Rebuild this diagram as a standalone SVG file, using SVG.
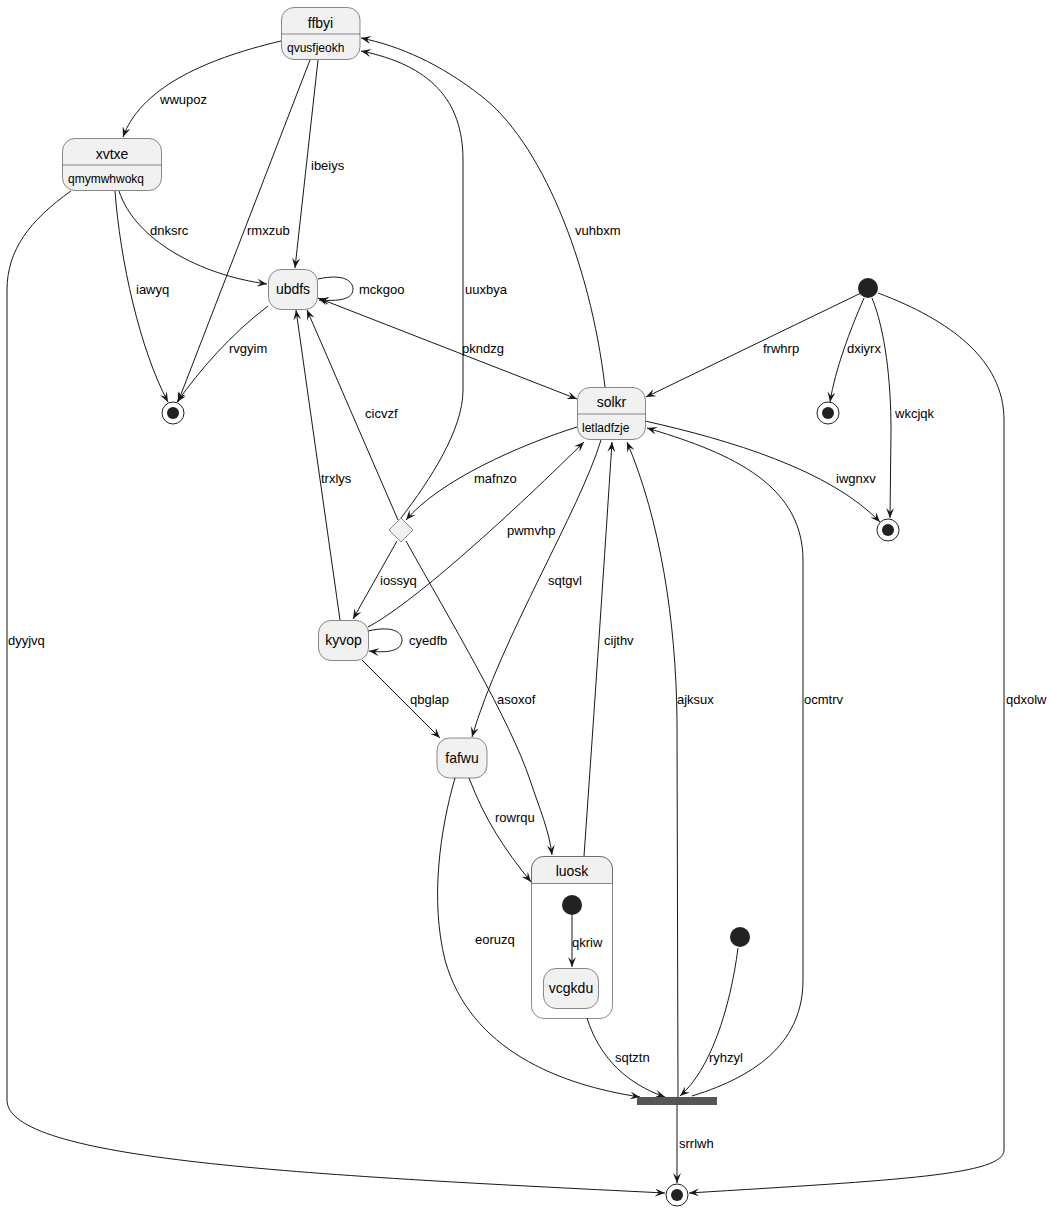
<svg xmlns="http://www.w3.org/2000/svg" width="1052" height="1210" viewBox="0 0 1052 1210">
  <style>
    .st { fill: #F1F1F1; stroke: #181818; stroke-width: 0.5; }
    .box { fill: none; stroke: #181818; stroke-width: 0.5; }
    .sep { stroke: #181818; stroke-width: 0.5; }
    .name { font-family: "Liberation Sans", Arial, sans-serif; font-size: 14px; fill: #000; text-anchor: middle; }
    .attr { font-family: "Liberation Sans", Arial, sans-serif; font-size: 12px; fill: #000; }
    .lbl { font-family: "Liberation Sans", Arial, sans-serif; font-size: 13px; fill: #000; }
    .edge { fill: none; stroke: #181818; stroke-width: 1; marker-end: url(#arrow); }
    .dot { fill: #222222; }
    .ring { fill: #FFFFFF; stroke: #222222; stroke-width: 1; }
  </style>
  <defs>
    <marker id="arrow" viewBox="0 0 10 8" refX="10" refY="4" markerWidth="10" markerHeight="8" markerUnits="userSpaceOnUse" orient="auto-start-reverse">
      <path d="M0,0 L10,4 L0,8 L4,4 Z" fill="#181818"/>
    </marker>
  </defs>
  <rect width="1052" height="1210" fill="#FFFFFF"/>

  <!-- transitions -->
  <g id="connectors">
    <path class="edge" d="M281,41 C200,60 140,90 123,137"/>
    <text class="lbl" x="160" y="104">wwupoz</text>
    <path class="edge" d="M318,60 L295,268"/>
    <text class="lbl" x="311" y="170">ibeiys</text>
    <path class="edge" d="M310,60 L178,402"/>
    <text class="lbl" x="247" y="235">rmxzub</text>
    <path class="edge" d="M119,191 C135,240 200,275 267,284"/>
    <text class="lbl" x="150" y="235">dnksrc</text>
    <path class="edge" d="M115,191 C120,260 140,350 168,402"/>
    <text class="lbl" x="136" y="294">iawyq</text>
    <path class="edge" d="M71,191 C30,220 7,250 7,290 L7,1100 C7,1160 300,1175 665,1193"/>
    <text class="lbl" x="8" y="645">dyyjvq</text>
    <path class="edge" d="M318,279 C345,273 353,282 353,289 C353,297 345,302 319,300"/>
    <text class="lbl" x="359" y="294">mckgoo</text>
    <path class="edge" d="M268,306 C230,335 200,370 177,402"/>
    <text class="lbl" x="229" y="353">rvgyim</text>
    <path class="edge" style="marker-start: url(#arrow)" d="M318,298 L577,399"/>
    <text class="lbl" x="462" y="353">pkndzg</text>
    <path class="edge" d="M401,518 C430,480 463,430 463,390 L463,160 C463,100 430,65 361,51"/>
    <text class="lbl" x="465" y="294">uuxbya</text>
    <path class="edge" d="M605,387 C590,260 540,140 480,95 C440,64 400,46 361,38"/>
    <text class="lbl" x="575" y="235">vuhbxm</text>
    <path class="edge" d="M398,520 L307,310"/>
    <text class="lbl" x="365" y="418">cicvzf</text>
    <path class="edge" d="M340,620 L296,310"/>
    <text class="lbl" x="321" y="483">trxlys</text>
    <path class="edge" d="M577,427 C520,445 440,480 406,520"/>
    <text class="lbl" x="474" y="483">mafnzo</text>
    <path class="edge" d="M368,627 C410,605 500,525 584,442"/>
    <text class="lbl" x="507" y="535">pwmvhp</text>
    <path class="edge" d="M397,541 L353,619"/>
    <text class="lbl" x="380" y="585">iossyq</text>
    <path class="edge" d="M406,541 C450,620 510,720 530,780 C540,810 549,830 552,855"/>
    <text class="lbl" x="497" y="704">asoxof</text>
    <path class="edge" d="M368,631 C394,625 402,633 402,640 C402,648 394,654 369,651"/>
    <text class="lbl" x="409" y="645">cyedfb</text>
    <path class="edge" d="M362,660 L440,738"/>
    <text class="lbl" x="410" y="704">qbglap</text>
    <path class="edge" d="M601,440 C580,510 500,640 472,737"/>
    <text class="lbl" x="548" y="585">sqtgvl</text>
    <path class="edge" d="M584,856 C595,700 605,550 612,442"/>
    <text class="lbl" x="604" y="645">cijthv</text>
    <path class="edge" d="M678,1097 L677,720 C676,620 660,520 627,442"/>
    <text class="lbl" x="677" y="704">ajksux</text>
    <path class="edge" d="M692,1096 C760,1075 803,1040 803,980 L803,560 C803,480 720,450 647,428"/>
    <text class="lbl" x="804" y="704">ocmtrv</text>
    <path class="edge" d="M469,778 C485,820 505,850 531,882"/>
    <text class="lbl" x="495" y="822">rowrqu</text>
    <path class="edge" d="M455,778 C440,830 430,900 445,960 C470,1050 560,1085 640,1097"/>
    <text class="lbl" x="475" y="944">eoruzq</text>
    <path class="edge" d="M572,915 L572,967"/>
    <text class="lbl" x="572" y="947">qkriw</text>
    <path class="edge" d="M587,1018 C600,1060 630,1085 665,1097"/>
    <text class="lbl" x="615" y="1062">sqtztn</text>
    <path class="edge" d="M738,948 C730,1010 710,1070 680,1096"/>
    <text class="lbl" x="709" y="1062">ryhzyl</text>
    <path class="edge" d="M677,1105 L677,1183"/>
    <text class="lbl" x="679" y="1148">srrlwh</text>
    <path class="edge" d="M861,293 L646,397"/>
    <text class="lbl" x="763" y="353">frwhrp</text>
    <path class="edge" d="M864,298 C850,330 835,370 830,402"/>
    <text class="lbl" x="847" y="353">dxiyrx</text>
    <path class="edge" d="M872,298 C885,330 891,380 891,430 L890,518"/>
    <text class="lbl" x="895" y="418">wkcjqk</text>
    <path class="edge" d="M645,421 C730,440 830,470 880,522"/>
    <text class="lbl" x="836" y="483">iwgnxv</text>
    <path class="edge" d="M878,293 C950,320 1004,360 1004,420 L1004,1150 C1004,1175 900,1180 689,1193"/>
    <text class="lbl" x="1006" y="704">qdxolw</text>
  </g>

  <!-- states -->
  <g id="ffbyi">
    <rect class="st" x="281.5" y="7.5" width="78.5" height="52" rx="12.5"/>
    <line class="sep" x1="281.5" y1="34" x2="360" y2="34"/>
    <text class="name" x="320.5" y="27.5">ffbyi</text>
    <text class="attr" x="287" y="52">qvusfjeokh</text>
  </g>
  <g id="xvtxe">
    <rect class="st" x="62.5" y="138.5" width="99" height="52" rx="12.5"/>
    <line class="sep" x1="62.5" y1="165" x2="161.5" y2="165"/>
    <text class="name" x="112" y="158.5">xvtxe</text>
    <text class="attr" x="68" y="183">qmymwhwokq</text>
  </g>
  <g id="ubdfs">
    <rect class="st" x="268.5" y="269.5" width="49" height="40" rx="12.5"/>
    <text class="name" x="293" y="294">ubdfs</text>
  </g>
  <g id="final_left">
    <circle class="ring" cx="173" cy="413" r="11"/>
    <circle class="dot" cx="173" cy="413" r="6"/>
  </g>
  <g id="solkr">
    <rect class="st" x="577.5" y="387.5" width="68" height="52" rx="12.5"/>
    <line class="sep" x1="577.5" y1="414" x2="645.5" y2="414"/>
    <text class="name" x="611.5" y="407">solkr</text>
    <text class="attr" x="582" y="431.5">letladfzje</text>
  </g>
  <g id="start_right">
    <circle class="dot" cx="868" cy="288" r="10"/>
  </g>
  <g id="final_dxiyrx">
    <circle class="ring" cx="828" cy="413" r="11"/>
    <circle class="dot" cx="828" cy="413" r="6"/>
  </g>
  <g id="final_right">
    <circle class="ring" cx="888" cy="530" r="11"/>
    <circle class="dot" cx="888" cy="530" r="6"/>
  </g>
  <g id="choice">
    <polygon class="st" points="401,518 413,530 401,542 389,530"/>
  </g>
  <g id="kyvop">
    <rect class="st" x="318.5" y="620.5" width="50" height="40" rx="12.5"/>
    <text class="name" x="343.5" y="645">kyvop</text>
  </g>
  <g id="fafwu">
    <rect class="st" x="437" y="738" width="50" height="40" rx="12.5"/>
    <text class="name" x="462" y="763">fafwu</text>
  </g>
  <g id="luosk">
    <rect class="box" x="531.5" y="856.5" width="81" height="162" rx="12.5"/>
    <path class="st" d="M531.5,883.5 L531.5,869 A12.5,12.5 0 0 1 544,856.5 L600,856.5 A12.5,12.5 0 0 1 612.5,869 L612.5,883.5 Z"/>
    <text class="name" x="572" y="876">luosk</text>
    <g id="luosk_start">
      <circle class="dot" cx="572" cy="905" r="10"/>
    </g>
    <g id="vcgkdu">
      <rect class="st" x="543.5" y="968.5" width="55" height="40" rx="12.5"/>
      <text class="name" x="571" y="993">vcgkdu</text>
    </g>
  </g>
  <g id="start_bottom">
    <circle class="dot" cx="740" cy="937" r="10"/>
  </g>
  <g id="join">
    <rect x="637" y="1097" width="80" height="8" fill="#555555"/>
  </g>
  <g id="final_bottom">
    <circle class="ring" cx="677" cy="1195" r="11"/>
    <circle class="dot" cx="677" cy="1195" r="6"/>
  </g>
</svg>
